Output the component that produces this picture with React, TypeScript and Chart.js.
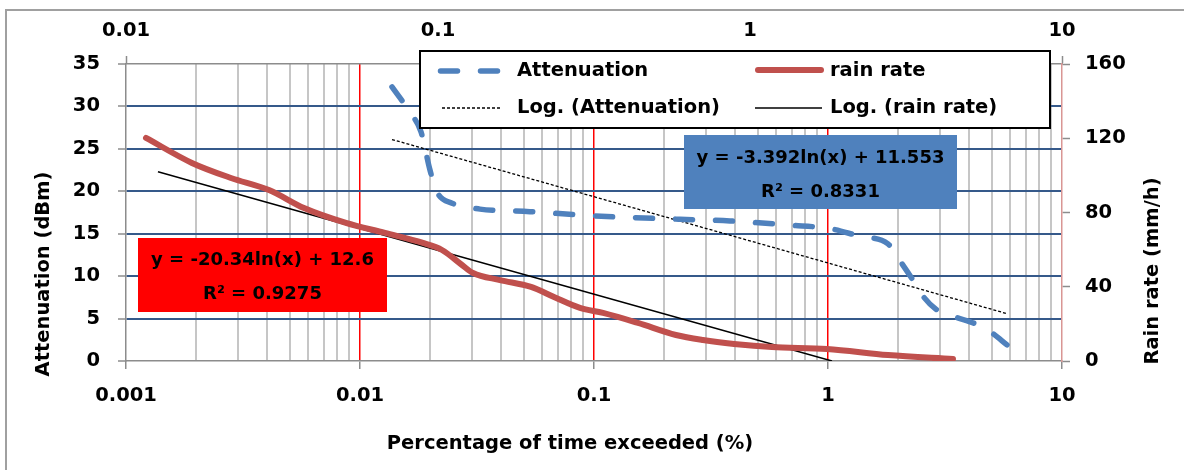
import React, { useEffect, useRef } from "react";
import { Chart, registerables } from "chart.js";

Chart.register(...registerables);

// ---- Data ----
// Attenuation: bottom x axis (percentage), left y axis (dBm)
const attenuationX = [0.0137, 0.01636, 0.01823, 0.01991, 0.02134, 0.02474, 0.03257, 0.05327, 0.1, 0.2331, 0.3813, 0.688, 1.02, 1.37, 1.805, 2.031, 2.286, 2.572, 2.894, 3.488, 4.248, 5.022, 5.821];
const attenuationY = [32.3, 29.3, 27.0, 22.5, 19.9, 18.6, 17.9, 17.6, 17.1, 16.7, 16.5, 16.0, 15.6, 14.7, 13.8, 11.8, 9.7, 7.5, 6.1, 5.2, 4.4, 3.3, 1.9];

// Rain rate: top x axis (percentage), right y axis (mm/h)
const rainX = [0.01159, 0.01627, 0.0217, 0.02873, 0.0372, 0.0507, 0.0676, 0.0895, 0.103, 0.1194, 0.1295, 0.158, 0.1987, 0.2354, 0.2852, 0.338, 0.4375, 0.579, 0.707, 0.889, 1.176, 1.765, 2.769, 4.473];
const rainY = [120.2, 106.7, 98.6, 92.1, 82.4, 74.4, 69.0, 63.6, 59.8, 51.7, 47.4, 43.6, 39.9, 34.5, 28.6, 25.9, 20.5, 14.0, 11.3, 9.2, 7.5, 6.5, 3.2, 1.1];

// Logarithmic trend lines (end points)
const attTrendX = [0.0137, 5.821];
const attTrendY = [26.1, 5.58];
const rainTrendX = [0.01266, 1.831];
const rainTrendY = [102, 0];

// Axes
const bottomMajorTicks = [0.001, 0.01, 0.1, 1, 10];
const topMajorTicks = [0.01, 0.1, 1, 10];
const leftRange = [0, 35, 5];
const rightRange = [0, 160, 40];

// Texts
const seriesNames = ["Attenuation", "rain rate", "Log. (Attenuation)", "Log. (rain rate)"];
const attEquation = ["y = -3.392ln(x) + 11.553", "R² = 0.8331"];
const rainEquation = ["y = -20.34ln(x) + 12.6", "R² = 0.9275"];
const xTitle = "Percentage of time exceeded (%)";
const yTitle = "Attenuation (dBm)";
const y2Title = "Rain rate (mm/h)";

// ---- Styles ----
const FONT = '"DejaVu Sans", sans-serif';
const BLUE = "#4F81BD";
const RED = "#C0504D";
const AXIS_GRAY = "#8C8C8C";
const MINOR_GRAY = "#C6C6C6";
const H_GRID = "#35598A";

const isMajor = (v: number) => {
  const l = Math.log10(v);
  return Math.abs(l - Math.round(l)) < 1e-6;
};

const bottomTickValues: number[] = (() => {
  const out: number[] = [];
  for (let i = 0; i < bottomMajorTicks.length - 1; i++) {
    for (let m = 1; m <= 9; m++) out.push(parseFloat((bottomMajorTicks[i] * m).toPrecision(6)));
  }
  out.push(bottomMajorTicks[bottomMajorTicks.length - 1]);
  return out;
})();

const fmt = (v: number) => String(parseFloat(v.toPrecision(6)));

const overlayPlugin = {
  id: "overlay",
  beforeDraw(chart: any) {
    const ctx = chart.ctx;
    ctx.save();
    ctx.fillStyle = "#ffffff";
    ctx.fillRect(0, 0, chart.width, chart.height);
    ctx.strokeStyle = "#A0A0A0";
    ctx.lineWidth = 2;
    ctx.strokeRect(6, 10, 1200, 500);
    ctx.restore();
  },
  afterDraw(chart: any) {
    const ctx = chart.ctx;
    ctx.save();
    const font = `bold 19.5px ${FONT}`;
    // Legend
    ctx.fillStyle = "#ffffff";
    ctx.fillRect(420, 51, 630, 77);
    ctx.strokeStyle = "#000";
    ctx.lineWidth = 2;
    ctx.strokeRect(420, 51, 630, 77);

    const r1 = 71;
    const r2 = 108;
    // Attenuation sample
    ctx.beginPath();
    ctx.strokeStyle = BLUE;
    ctx.lineWidth = 5.5;
    ctx.lineCap = "round";
    ctx.setLineDash([17, 23]);
    ctx.moveTo(440.5, r1);
    ctx.lineTo(498, r1);
    ctx.stroke();
    // Log attenuation sample
    ctx.beginPath();
    ctx.strokeStyle = "#000";
    ctx.lineWidth = 1.3;
    ctx.lineCap = "butt";
    ctx.setLineDash([3, 2]);
    ctx.moveTo(442, r2);
    ctx.lineTo(500, r2);
    ctx.stroke();
    // rain sample
    ctx.beginPath();
    ctx.setLineDash([]);
    ctx.strokeStyle = RED;
    ctx.lineWidth = 6;
    ctx.lineCap = "round";
    ctx.moveTo(758, 70);
    ctx.lineTo(821, 70);
    ctx.stroke();
    // log rain sample
    ctx.beginPath();
    ctx.strokeStyle = "#000";
    ctx.lineWidth = 1.5;
    ctx.lineCap = "butt";
    ctx.moveTo(755, r2);
    ctx.lineTo(822, r2);
    ctx.stroke();

    ctx.fillStyle = "#000";
    ctx.font = font;
    ctx.textAlign = "left";
    ctx.textBaseline = "middle";
    ctx.fillText(seriesNames[0], 517, r1);
    ctx.fillText(seriesNames[1], 830, r1);
    ctx.fillText(seriesNames[2], 517, r2);
    ctx.fillText(seriesNames[3], 830, r2);

    // Equation boxes
    const eqFont = `bold 18px ${FONT}`;
    ctx.fillStyle = "#FF0000";
    ctx.fillRect(138, 238, 249, 74);
    ctx.fillStyle = BLUE;
    ctx.fillRect(684, 135, 273, 74);
    ctx.fillStyle = "#000";
    ctx.font = eqFont;
    ctx.textAlign = "center";
    ctx.fillText(rainEquation[0], 262.5, 260);
    ctx.fillText(rainEquation[1], 262.5, 294);
    ctx.fillText(attEquation[0], 820.5, 158);
    ctx.fillText(attEquation[1], 820.5, 192);

    // Axis titles
    ctx.font = font;
    ctx.fillText(xTitle, 570, 444);
    ctx.save();
    ctx.translate(44, 274);
    ctx.rotate(-Math.PI / 2);
    ctx.fillText(yTitle, 0, 0);
    ctx.restore();
    ctx.save();
    ctx.translate(1153, 271);
    ctx.rotate(-Math.PI / 2);
    ctx.fillText(y2Title, 0, 0);
    ctx.restore();
    ctx.restore();
  },
};

export default function App() {
  const canvasRef = useRef<HTMLCanvasElement | null>(null);

  useEffect(() => {
    const canvas = canvasRef.current;
    if (!canvas) return;
    const tickFont = { family: FONT, size: 19.5, weight: "bold" as const };

    const chart = new Chart(canvas, {
      type: "line",
      data: {
        datasets: [
          {
            label: seriesNames[0],
            data: attenuationX.map((x, i) => ({ x, y: attenuationY[i] })),
            xAxisID: "x",
            yAxisID: "y",
            borderColor: BLUE,
            borderWidth: 5.5,
            borderDash: [17, 23],
            borderCapStyle: "round",
            pointRadius: 0,
            cubicInterpolationMode: "monotone",
            fill: false,
          },
          {
            label: seriesNames[1],
            data: rainX.map((x, i) => ({ x, y: rainY[i] })),
            xAxisID: "x2",
            yAxisID: "y2",
            borderColor: RED,
            borderWidth: 6,
            borderCapStyle: "round",
            pointRadius: 0,
            cubicInterpolationMode: "monotone",
            fill: false,
          },
          {
            label: seriesNames[2],
            data: attTrendX.map((x, i) => ({ x, y: attTrendY[i] })),
            xAxisID: "x",
            yAxisID: "y",
            borderColor: "#000",
            borderWidth: 1.3,
            borderDash: [3, 2],
            pointRadius: 0,
            tension: 0,
            fill: false,
          },
          {
            label: seriesNames[3],
            data: rainTrendX.map((x, i) => ({ x, y: rainTrendY[i] })),
            xAxisID: "x2",
            yAxisID: "y2",
            borderColor: "#000",
            borderWidth: 1.5,
            pointRadius: 0,
            tension: 0,
            fill: false,
          },
        ],
      },
      options: {
        responsive: false,
        animation: false,
        devicePixelRatio: 1,
        layout: { padding: 0 },
        plugins: {
          legend: { display: false },
          tooltip: { enabled: false },
          title: { display: false },
        },
        scales: {
          x: {
            type: "logarithmic",
            position: "bottom",
            min: bottomMajorTicks[0],
            max: bottomMajorTicks[bottomMajorTicks.length - 1],
            afterBuildTicks: (s: any) => {
              s.ticks = bottomTickValues.map((v) => ({ value: v, major: isMajor(v) }));
            },
            afterFit: (s: any) => {
              s.height = 109;
            },
            ticks: {
              autoSkip: false,
              maxRotation: 0,
              minRotation: 0,
              padding: 15,
              color: "#000",
              font: tickFont,
              callback: (v: any) => (isMajor(Number(v)) ? fmt(Number(v)) : ""),
            },
            grid: {
              color: (c: any) => {
                const v = c.tick ? c.tick.value : 0;
                if (v <= bottomMajorTicks[0] * 1.0001 || v >= bottomMajorTicks[bottomMajorTicks.length - 1] * 0.9999) return "rgba(0,0,0,0)";
                return isMajor(v) ? "#FF0000" : MINOR_GRAY;
              },
              lineWidth: (c: any) => (c.tick && isMajor(c.tick.value) ? 1.5 : 2),
              drawTicks: true,
              tickLength: 8,
              tickWidth: 1.5,
              tickColor: (c: any) => (c.tick && isMajor(c.tick.value) ? AXIS_GRAY : "rgba(0,0,0,0)"),
            },
            border: { display: true, color: AXIS_GRAY, width: 1.5 },
          },
          x2: {
            type: "logarithmic",
            position: "top",
            min: topMajorTicks[0],
            max: topMajorTicks[topMajorTicks.length - 1],
            afterBuildTicks: (s: any) => {
              s.ticks = topMajorTicks.map((v) => ({ value: v, major: true }));
            },
            afterFit: (s: any) => {
              s.height = 64;
            },
            ticks: {
              autoSkip: false,
              maxRotation: 0,
              minRotation: 0,
              padding: 13,
              color: "#000",
              font: tickFont,
              callback: (v: any) => fmt(Number(v)),
            },
            grid: {
              drawOnChartArea: false,
              drawTicks: true,
              tickLength: 8,
              tickWidth: 1.5,
              color: AXIS_GRAY,
              tickColor: AXIS_GRAY,
            },
            border: { display: true, color: AXIS_GRAY, width: 1.5 },
          },
          y: {
            type: "linear",
            position: "left",
            min: leftRange[0],
            max: leftRange[1],
            afterFit: (s: any) => {
              s.width = 126;
            },
            ticks: {
              stepSize: leftRange[2],
              padding: 18,
              color: "#000",
              font: tickFont,
            },
            grid: {
              color: (c: any) => {
                const v = c.tick ? c.tick.value : 0;
                return v === leftRange[0] || v === leftRange[1] ? "rgba(0,0,0,0)" : H_GRID;
              },
              lineWidth: 2,
              drawTicks: true,
              tickLength: 8,
              tickWidth: 1.5,
              tickColor: AXIS_GRAY,
            },
            border: { display: true, color: AXIS_GRAY, width: 1.5 },
          },
          y2: {
            type: "linear",
            position: "right",
            min: rightRange[0],
            max: rightRange[1],
            afterFit: (s: any) => {
              s.width = 122;
            },
            ticks: {
              stepSize: rightRange[2],
              padding: 15,
              color: "#000",
              font: tickFont,
            },
            grid: {
              drawOnChartArea: false,
              drawTicks: true,
              tickLength: 8,
              tickWidth: 1.5,
              color: AXIS_GRAY,
              tickColor: AXIS_GRAY,
            },
            border: { display: true, color: "#D99694", width: 1.5 },
          },
        },
      } as any,
      plugins: [overlayPlugin],
    });

    return () => chart.destroy();
  }, []);

  return (
    <div style={{ position: "absolute", left: 0, top: 0, width: 1184, height: 470, background: "#fff" }}>
      <canvas ref={canvasRef} width={1184} height={470} style={{ display: "block" }} />
    </div>
  );
}
